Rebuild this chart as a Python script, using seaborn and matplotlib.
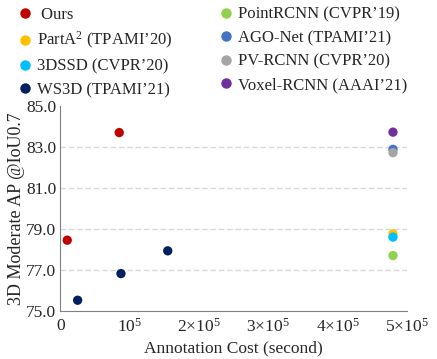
import pandas as pd
import seaborn as sns
import matplotlib.pyplot as plt

# Data
methods = ['Ours', 'Ours',
           'PartA2', '3DSSD',
           'WS3D', 'WS3D', 'WS3D',
           'PointRCNN', 'AGO-Net', 'PV-RCNN', 'Voxel-RCNN']
cost = [0.10e5, 0.85e5,
        4.80e5, 4.80e5,
        0.25e5, 0.875e5, 1.55e5,
        4.80e5, 4.80e5, 4.80e5, 4.80e5]
ap = [78.45, 83.70,
      78.76, 78.60,
      75.52, 76.82, 77.93,
      77.70, 82.88, 82.72, 83.72]

order = ['Ours', 'PartA2', '3DSSD', 'WS3D',
         'PointRCNN', 'AGO-Net', 'PV-RCNN', 'Voxel-RCNN']
labels = [' Ours', r'PartA$^2$ (TPAMI’20)', '3DSSD (CVPR’20)', 'WS3D (TPAMI’21)',
          'PointRCNN (CVPR’19)', 'AGO-Net (TPAMI’21)', 'PV-RCNN (CVPR’20)',
          'Voxel-RCNN (AAAI’21)']
colors = ['#C00000', '#FFC000', '#00BFFF', '#002060',
          '#92D050', '#4472C4', '#A5A5A5', '#7030A0']

xticks = [0, 1e5, 2e5, 3e5, 4e5, 5e5]
xticklabels = ['0', r'$10^5$', r'$2{\times}10^5$', r'$3{\times}10^5$',
               r'$4{\times}10^5$', r'$5{\times}10^5$']
yticks = [75, 77, 79, 81, 83, 85]

df = pd.DataFrame({'method': methods, 'cost': cost, 'ap': ap})

sns.set_theme(style='white')
plt.rcParams['font.family'] = ['Liberation Serif', 'DejaVu Serif']
plt.rcParams['mathtext.fontset'] = 'custom'
plt.rcParams['mathtext.rm'] = 'Liberation Serif'
plt.rcParams['mathtext.it'] = 'Liberation Serif:italic'

fig = plt.figure(figsize=(4.37, 3.59), dpi=100)
ax = fig.add_axes([0.138, 0.134, 0.793, 0.571])

sns.scatterplot(data=df, x='cost', y='ap', hue='method', hue_order=order,
                palette=colors, s=45, linewidth=0, ax=ax, legend=False, zorder=3)

ax.set_xlim(0, 5e5)
ax.set_ylim(75, 85)
ax.set_xticks(xticks)
ax.set_xticklabels(xticklabels)
ax.set_yticks(yticks)
ax.set_yticklabels([f'{v:.1f}' for v in yticks])
ax.tick_params(axis='both', direction='in', length=4, width=0.8,
               color='#808080', labelsize=12.5)
ax.tick_params(axis='x', pad=5)
ax.tick_params(axis='y', pad=3)

for v in yticks[1:-1]:
    ax.axhline(v, color='#D9D9D9', ls=(0, (4, 2)), lw=1, zorder=1)

for s in ['top', 'right']:
    ax.spines[s].set_visible(False)
for s in ['left', 'bottom']:
    ax.spines[s].set_color('#808080')
    ax.spines[s].set_linewidth(0.8)

ax.set_xlabel('Annotation Cost (second)', fontsize=12.5, labelpad=3)
ax.set_ylabel('3D Moderate AP @IoU0.7', fontsize=13, labelpad=1)

handles = [plt.Line2D([], [], marker='o', ls='', color=c, markersize=6.5)
           for c in colors]
fig.legend(handles, labels, ncol=2, loc='upper left', bbox_to_anchor=(0.02, 1.0),
           frameon=False, fontsize=12, handletextpad=0.1, columnspacing=2.6,
           labelspacing=0.45, handlelength=1.2, borderaxespad=0)

fig.savefig('out.png', dpi=100)
